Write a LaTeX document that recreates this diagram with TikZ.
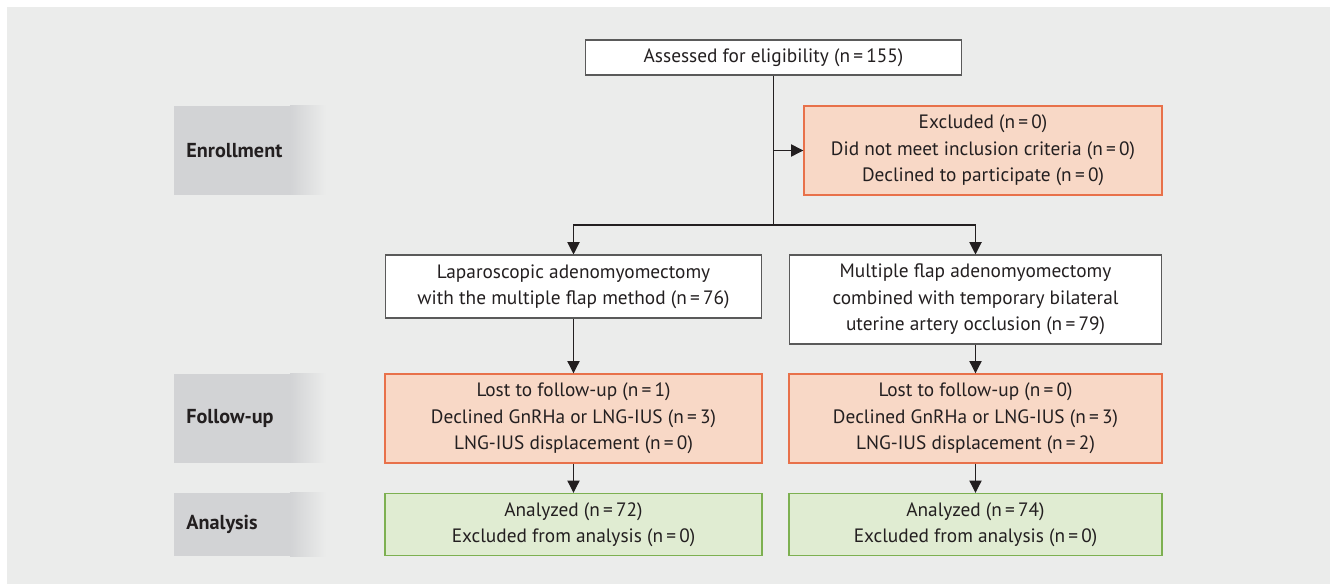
\documentclass[tikz,border=0pt]{standalone}
\usepackage{fontspec}
\setmainfont{PT Sans}
\usetikzlibrary{arrows.meta}
\definecolor{panelgray}{HTML}{EBECEB}
\definecolor{stagegray}{HTML}{D2D3D5}
\definecolor{boxline}{HTML}{5A5A5A}
\definecolor{inkblack}{HTML}{231F20}
\definecolor{exclfill}{HTML}{F8D8C6}
\definecolor{excldraw}{HTML}{E8714A}
\definecolor{anafill}{HTML}{E0ECD2}
\definecolor{anadraw}{HTML}{7DB051}
\begin{document}
\begin{tikzpicture}[x=0.02cm,y=-0.02cm,>={Triangle[length=7pt,width=7pt]},
	font=\fontsize{11}{15}\selectfont,text=inkblack,
	box/.style={draw=boxline,line width=0.6pt,fill=white,align=center,inner sep=0pt},
	exclbox/.style={box,draw=excldraw,fill=exclfill,line width=0.8pt},
	anabox/.style={box,draw=anadraw,fill=anafill,line width=0.8pt},
	stage/.style={anchor=west,inner sep=0pt,font=\fontsize{11.5}{14}\selectfont\bfseries},
	arrow/.style={->,draw=inkblack,line width=0.6pt}]
	\useasboundingbox (0,0) rectangle (1330,584);
	\fill[panelgray] (7,7) rectangle (1330,584);
	% stage bars on the left
	\foreach \ya/\yb in {106/195,374/463,493/556}{
		\fill[stagegray] (174,\ya) rectangle (290,\yb);
		\shade[left color=stagegray,right color=panelgray] (290,\ya) rectangle (326,\yb);
	}
	\node[stage] (enroll) at (186,150.5) {Enrollment};
	\node[stage] (follow) at (186,418.5) {Follow-up};
	\node[stage] (analysis) at (186,524.5) {Analysis};
	% boxes
	\node[box,minimum width=7.54cm,minimum height=0.7cm] (assessed) at (773.5,57.5) {Assessed for eligibility (n\,=\,155)};
	\node[exclbox,minimum width=7.16cm,minimum height=1.78cm] (excl) at (983,150.5) {Excluded (n\,=\,0)\\Did not meet inclusion criteria (n\,=\,0)\\Declined to participate (n\,=\,0)};
	\node[box,minimum width=7.54cm,minimum height=1.26cm] (lap) at (573.5,286.5) {Laparoscopic adenomyomectomy\\with the multiple flap method (n\,=\,76)};
	\node[box,minimum width=7.46cm,minimum height=1.78cm] (flap) at (975.5,299.5) {Multiple flap adenomyomectomy\\combined with temporary bilateral\\uterine artery occlusion (n\,=\,79)};
	\node[exclbox,minimum width=7.54cm,minimum height=1.78cm] (lostL) at (573.5,418.5) {Lost to follow-up (n\,=\,1)\\Declined GnRHa or LNG-IUS (n\,=\,3)\\LNG-IUS displacement (n\,=\,0)};
	\node[exclbox,minimum width=7.46cm,minimum height=1.78cm] (lostR) at (975.5,418.5) {Lost to follow-up (n\,=\,0)\\Declined GnRHa or LNG-IUS (n\,=\,3)\\LNG-IUS displacement (n\,=\,2)};
	\node[anabox,minimum width=7.54cm,minimum height=1.24cm] (anaL) at (573.5,524.5) {Analyzed (n\,=\,72)\\Excluded from analysis (n\,=\,0)};
	\node[anabox,minimum width=7.46cm,minimum height=1.24cm] (anaR) at (975.5,524.5) {Analyzed (n\,=\,74)\\Excluded from analysis (n\,=\,0)};
	% connectors
	\coordinate (split) at (773.5,225);
	\draw[line width=0.6pt,draw=inkblack] (assessed.south) -- (split);
	\draw[arrow] (assessed.south |- excl.west) -- (excl.west);
	\draw[arrow] (split) -| (lap.north);
	\draw[arrow] (split) -| (flap.north);
	\draw[arrow] (lap) -- (lostL);
	\draw[arrow] (flap) -- (lostR);
	\draw[arrow] (lostL) -- (anaL);
	\draw[arrow] (lostR) -- (anaR);
\end{tikzpicture}
\end{document}
